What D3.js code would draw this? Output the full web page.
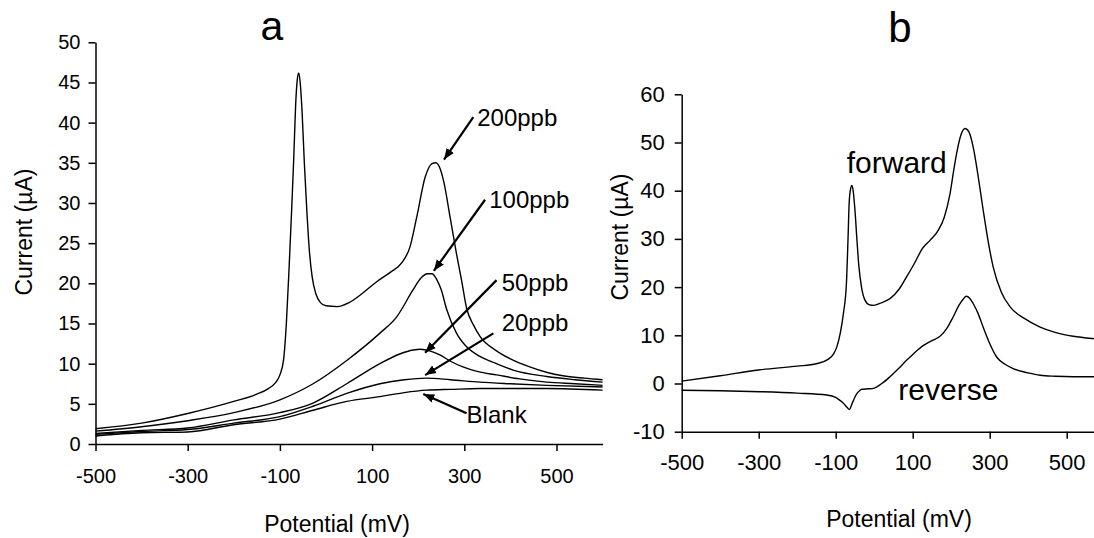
<!DOCTYPE html>
<html>
<head>
<meta charset="utf-8">
<script src="https://cdn.jsdelivr.net/npm/d3@7"></script>
<style>
body{margin:0;background:#fff;}
svg{display:block;}
text{font-family:"Liberation Sans",Arial,sans-serif;fill:#000;}
</style>
</head>
<body>
<div class="canvas"></div>
<script>
// panel a : [potential mV, current uA]
const ppb200 = [[-500,1.9],[-400,2.6],[-300,3.8],[-200,5.3],[-150,6.2],[-125,6.9],[-110,7.6],[-100,8.6],[-92,10.5],[-86,15],[-80,22],[-75,28.5],[-70,35.5],[-66,42],[-62,45.5],[-59,46.2],[-56,45],[-52,41.5],[-47,35],[-42,29.5],[-36,24],[-30,20.8],[-22,18.7],[-12,17.6],[0,17.2],[25,17.1],[50,17.6],[80,18.8],[110,20.2],[140,21.4],[165,22.6],[182,24.5],[197,28.3],[215,33.2],[230,34.9],[238,35.0],[248,34.2],[256,32.5],[269,28.3],[283,23.7],[294,20.4],[305,16.9],[320,14.8],[334,13.4],[370,11.6],[400,10.6],[442,9.6],[480,8.9],[514,8.5],[560,8.2],[600,8.0]];
const ppb100 = [[-500,1.6],[-400,2.15],[-300,2.9],[-200,3.9],[-100,5.5],[-28,7.5],[45,10.4],[117,13.8],[153,15.8],[189,19.2],[205,20.6],[220,21.2],[230,21.2],[240,20.5],[250,19.2],[262,16.7],[283,13.8],[305,12.1],[334,10.9],[370,10.0],[406,9.2],[479,8.4],[540,8.0],[600,7.7]];
const ppb50 = [[-500,1.3],[-400,1.7],[-300,2.0],[-200,3.0],[-100,3.9],[-28,5.1],[45,7.5],[117,10.0],[160,11.2],[189,11.7],[205,11.8],[225,11.6],[247,11.1],[270,10.3],[297,9.6],[330,9.0],[370,8.6],[420,8.1],[479,7.7],[540,7.5],[600,7.3]];
const ppb20 = [[-500,1.2],[-400,1.55],[-300,1.8],[-200,2.6],[-100,3.4],[-28,4.7],[45,6.3],[117,7.5],[170,8.0],[218,8.2],[270,8.0],[334,7.7],[400,7.5],[479,7.3],[600,7.1]];
const blank = [[-500,1.0],[-400,1.4],[-300,1.5],[-200,2.4],[-100,3.1],[-28,4.2],[45,5.3],[117,5.9],[170,6.4],[218,6.7],[270,6.8],[334,6.9],[400,6.9],[479,6.9],[600,6.7]];

// panel b
const forward = [[-500,0.5],[-400,1.6],[-300,2.8],[-200,3.6],[-150,4.1],[-120,5.0],[-105,6.2],[-97,7.6],[-88,10.5],[-80,14.5],[-72,21],[-68,30],[-65,37.5],[-61,40.5],[-58,41.1],[-55,40.2],[-50,36],[-45,30],[-40,24.5],[-33,20],[-24,17.3],[-12,16.3],[-2,16.2],[20,16.8],[41,17.6],[65,19.6],[84,22.1],[105,25],[125,28],[145,29.7],[165,31.6],[182,34.5],[197,39.4],[207,44.5],[214,47.7],[225,51.5],[236,52.9],[246,52.2],[257,49.1],[270,43],[283,36],[296,29.5],[309,24.2],[330,19],[353,15.9],[390,13.5],[431,11.7],[470,10.6],[517,9.8],[570,9.3],[600,9.1]];
const reverse = [[-500,-1.4],[-400,-1.5],[-296,-1.7],[-200,-2.0],[-123,-2.4],[-100,-2.9],[-89,-3.5],[-80,-4.1],[-70,-5.0],[-64.5,-5.4],[-58,-4.3],[-50,-2.8],[-45,-2.1],[-38,-1.5],[-32,-1.2],[-15,-1.1],[-2,-1.0],[20,0.0],[41,1.4],[62,3.0],[84,4.8],[105,6.4],[128,7.9],[150,8.9],[171,9.8],[190,11.6],[205,13.8],[220,16.2],[232,17.6],[239,18.1],[248,17.7],[257,16.6],[270,14.5],[283,11.7],[300,8.3],[318,5.5],[340,4.0],[361,3.1],[400,2.2],[431,1.7],[470,1.5],[517,1.4],[570,1.4],[600,1.4]];

const xTicks = [-500,-300,-100,100,300,500];
const yTicksA = [0,5,10,15,20,25,30,35,40,45,50];
const yTicksB = [-10,0,10,20,30,40,50,60];

// labels with arrows, in data units: [text, textX, textY, fromX, fromY, toX, toY]
const notesA = [
	['200ppb',328,39.55,319.5,40.7,256,35.4],
	['100ppb',354,29.4,345,30.4,234,21.55],
	['50ppb',381,19.07,370,20.4,215,11.36],
	['20ppb',381,14.1,363,13.77,215,8.58],
	['Blank',305,2.57,305,3.82,211,6.22]
];
const notesB = [['forward',-71.4,43.6],['reverse',62.6,-3.46]];

const W = 1094, H = 538;
const svg = d3.select('.canvas').append('svg').attr('width',W).attr('height',H);

svg.append('defs').append('marker')
	.attr('id','arr')
	.attr('viewBox','0 0 10 10')
	.attr('refX',10).attr('refY',5)
	.attr('markerWidth',11).attr('markerHeight',11)
	.attr('markerUnits','userSpaceOnUse')
	.attr('orient','auto')
	.append('path').attr('d','M0,1 L10,5 L0,9 Z').attr('fill','#000');

// scales
const xA = d3.scaleLinear().domain([-500,600]).range([95.5,602.6]);
const yA = d3.scaleLinear().domain([0,50]).range([444,42.3]);
const xB = d3.scaleLinear().domain([-500,600]).range([681.7,1105.2]);
const yB = d3.scaleLinear().domain([-10,60]).range([431.7,94.3]);

function drawAxes(x, y, yTicks, pad, fs){
	const gx = svg.append('g').attr('transform',`translate(0,${y.range()[0]})`)
		.call(d3.axisBottom(x).tickValues(xTicks).tickSize(7).tickSizeOuter(0).tickPadding(pad[0]).tickFormat(d=>String(d)));
	const gy = svg.append('g').attr('transform',`translate(${x.range()[0]},0)`)
		.call(d3.axisLeft(y).tickValues(yTicks).tickSize(7).tickSizeOuter(0).tickPadding(pad[1]).tickFormat(d=>String(d)));
	[gx,gy].forEach(g=>{
		g.selectAll('path,line').attr('stroke','#000').attr('stroke-width',1.5);
		g.selectAll('text').style('font-size',fs+'px').attr('fill','#000');
	});
}
drawAxes(xA, yA, yTicksA, [18,8], 20);
drawAxes(xB, yB, yTicksB, [16,10], 22);

const lineA = d3.line().x(d=>xA(d[0])).y(d=>yA(d[1])).curve(d3.curveMonotoneX);
const lineB = d3.line().x(d=>xB(d[0])).y(d=>yB(d[1])).curve(d3.curveMonotoneX);

svg.append('g').selectAll('path')
	.data([blank,ppb20,ppb50,ppb100,ppb200])
	.enter().append('path')
	.attr('d',lineA)
	.attr('fill','none').attr('stroke','#000').attr('stroke-width',1.4);

svg.append('g').selectAll('path')
	.data([forward,reverse])
	.enter().append('path')
	.attr('d',lineB)
	.attr('fill','none').attr('stroke','#000').attr('stroke-width',1.4);

// annotations a
notesA.forEach(n=>{
	svg.append('line')
		.attr('x1',xA(n[3])).attr('y1',yA(n[4]))
		.attr('x2',xA(n[5])).attr('y2',yA(n[6]))
		.attr('stroke','#000').attr('stroke-width',2.2)
		.attr('marker-end','url(#arr)');
	svg.append('text').attr('x',xA(n[1])).attr('y',yA(n[2]))
		.style('font-size','24px').text(n[0]);
});
notesB.forEach(n=>{
	svg.append('text').attr('x',xB(n[1])).attr('y',yB(n[2]))
		.style('font-size','30px').text(n[0]);
});

// titles and axis titles
svg.append('text').attr('x',272).attr('y',40).attr('text-anchor','middle').style('font-size','41px').text('a');
svg.append('text').attr('x',900).attr('y',41.7).attr('text-anchor','middle').style('font-size','42px').text('b');

svg.append('text').attr('transform','translate(31.5,232) rotate(-90)').attr('text-anchor','middle').style('font-size','23px').text('Current (µA)');
svg.append('text').attr('transform','translate(627.5,237) rotate(-90)').attr('text-anchor','middle').style('font-size','23px').text('Current (µA)');

svg.append('text').attr('x',337).attr('y',532).attr('text-anchor','middle').style('font-size','23px').text('Potential (mV)');
svg.append('text').attr('x',899).attr('y',527).attr('text-anchor','middle').style('font-size','23px').text('Potential (mV)');
</script>
</body>
</html>
